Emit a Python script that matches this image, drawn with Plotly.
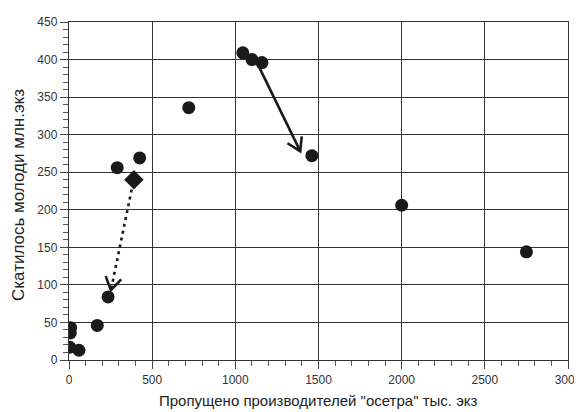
import math
import plotly.graph_objects as go

# Data
x_circle = [5, 10, 8, 60, 170, 235, 290, 425, 720, 1045, 1100, 1160, 1460, 2000, 2750]
y_circle = [17, 43, 36, 13, 46, 84, 256, 269, 336, 409, 400, 396, 272, 206, 144]
x_diamond = [390]
y_diamond = [240]

# arrows: start x, start y, end x, end y, dash
arrow_x0 = [1130, 385]
arrow_y0 = [396, 236]
arrow_x1 = [1390, 252]
arrow_y1 = [278, 93]
arrow_dash = ["solid", "3px,4px"]

x_ticks = [0, 500, 1000, 1500, 2000, 2500, 3000]
y_ticks = [0, 50, 100, 150, 200, 250, 300, 350, 400, 450]

x_title = 'Пропущено производителей "осетра" тыс. экз'
y_title = "Скатилось молоди млн.экз"

# the page body adds an 8px offset, so the figure is 8px smaller
W, H = 574, 404
ML, MR, MT, MB = 61, 14, 14, 52
XR = [0, 3000]
YR = [0, 450]
pw = W - ML - MR
ph = H - MT - MB
sx = pw / (XR[1] - XR[0])
sy = ph / (YR[1] - YR[0])

ink = "#1a1a1a"
FONT = "Liberation Sans, Arial, sans-serif"
fig = go.Figure()

for x0, y0, x1, y1, dash in zip(arrow_x0, arrow_y0, arrow_x1, arrow_y1, arrow_dash):
    fig.add_trace(go.Scatter(x=[x0, x1], y=[y0, y1], mode="lines",
                             line=dict(color=ink, width=2.6, dash=dash),
                             hoverinfo="skip", showlegend=False))
    # open V arrow head computed in pixel space
    dx = (x1 - x0) * sx
    dy = (y1 - y0) * sy
    ang = math.atan2(dy, dx)
    L = 15
    hx, hy = [], []
    for s in (1, -1):
        a = ang + math.pi + s * math.radians(32)
        hx += [x1 + L * math.cos(a) / sx]
        hy += [y1 + L * math.sin(a) / sy]
    fig.add_trace(go.Scatter(x=[hx[0], x1, hx[1]], y=[hy[0], y1, hy[1]], mode="lines",
                             line=dict(color=ink, width=2.6),
                             hoverinfo="skip", showlegend=False))

fig.add_trace(go.Scatter(x=x_circle, y=y_circle, mode="markers",
                         marker=dict(symbol="circle", size=13, color=ink),
                         showlegend=False))
fig.add_trace(go.Scatter(x=x_diamond, y=y_diamond, mode="markers",
                         marker=dict(symbol="diamond", size=15, color=ink),
                         showlegend=False))

axis_common = dict(
    showgrid=True, gridcolor="#333333", gridwidth=1.4,
    zeroline=False, showline=True, linecolor="#333333", linewidth=1.4,
    mirror=True, ticks="outside", ticklen=8, tickcolor="#444444", tickwidth=1.2,
    automargin=False,
)

fig.update_xaxes(range=XR, tickvals=x_ticks, ticktext=[str(v) for v in x_ticks],
                 tickfont=dict(family=FONT, size=12, color="#333333"),
                 ticklabeloverflow="allow",
                 minor=dict(dtick=100, ticks="outside", ticklen=5, tickcolor="#555555", showgrid=False),
                 **axis_common)
fig.update_yaxes(range=YR, tickvals=y_ticks, ticktext=[str(v) for v in y_ticks],
                 tickfont=dict(family=FONT, size=12, color="#333333"),
                 minor=dict(dtick=10, ticks="outside", ticklen=5, tickcolor="#555555", showgrid=False),
                 **axis_common)

fig.add_annotation(text=x_title, xref="paper", yref="paper", x=0.5, y=0,
                   xanchor="center", yanchor="middle", yshift=-40, showarrow=False,
                   font=dict(family=FONT, size=15, color="#222222"))
fig.add_annotation(text=y_title, xref="paper", yref="paper", x=0, y=(352 - 187) / ph,
                   xanchor="center", yanchor="middle", xshift=-51, textangle=-90,
                   showarrow=False,
                   font=dict(family=FONT, size=17, color="#222222"))

fig.update_layout(width=W, height=H, margin=dict(l=ML, r=MR, t=MT, b=MB),
                  paper_bgcolor="white", plot_bgcolor="white")

fig.write_html("out.html")
